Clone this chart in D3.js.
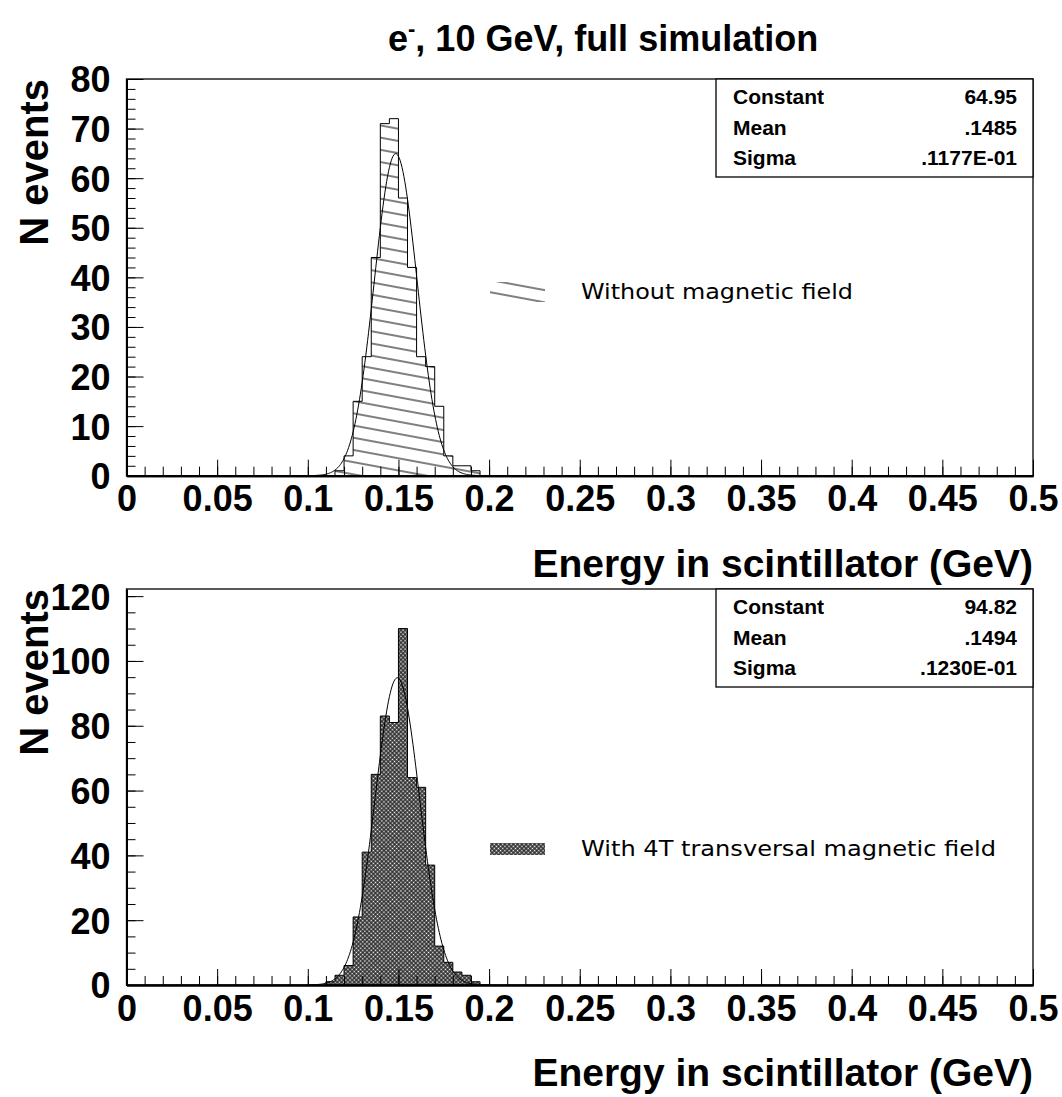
<!DOCTYPE html>
<html>
<head>
<meta charset="utf-8">
<script src="https://cdn.jsdelivr.net/npm/d3@7"></script>
<style>
    body { margin: 0; background: #fff; }
    svg { display: block; }
    text { font-family: "Liberation Sans", Arial, sans-serif; font-weight: bold; fill: #000; }
    .legend-text { font-family: "DejaVu Sans", sans-serif; font-weight: normal; }
</style>
</head>
<body>
<div id="chart"></div>
<script>

// bin lower edges (GeV), bin width 0.005
const binLow = [0.110, 0.115, 0.120, 0.125, 0.130, 0.135, 0.140, 0.145, 0.150,
                0.155, 0.160, 0.165, 0.170, 0.175, 0.180, 0.185, 0.190];
const binWidth = 0.005;

// counts
const countsNoField = [0, 1, 4, 15, 24, 44, 71, 72, 56, 42, 24, 22, 14, 4, 2, 2, 1];
const countsField   = [1, 3, 6, 21, 41, 65, 83, 81, 110, 64, 61, 37, 12, 7, 4, 3, 1];

// gaussian fit parameters shown in the stat boxes
const fitNoField = [64.95, 0.1485, 0.01177];
const fitField   = [94.82, 0.1494, 0.01230];
const statNames = ["Constant", "Mean", "Sigma"];
const statNoField = ["64.95", ".1485", ".1177E-01"];
const statField   = ["94.82", ".1494", ".1230E-01"];

const xMajorTicks = [0, 0.05, 0.1, 0.15, 0.2, 0.25, 0.3, 0.35, 0.4, 0.45, 0.5];
const yTicksTop = [0, 10, 20, 30, 40, 50, 60, 70, 80];
const yTicksBottom = [0, 20, 40, 60, 80, 100, 120];

const W = 1062, H = 1097;

const svg = d3.select("#chart").append("svg")
    .attr("width", W)
    .attr("height", H);

const defs = svg.append("defs");

// single hatching, slightly tilted lines
const hatch = defs.append("pattern")
    .attr("id", "hatch")
    .attr("patternUnits", "userSpaceOnUse")
    .attr("width", 40)
    .attr("height", 12)
    .attr("patternTransform", "rotate(10.5)");
hatch.append("line")
    .attr("x1", 0).attr("y1", 6).attr("x2", 40).attr("y2", 6)
    .attr("stroke", "#000").attr("stroke-width", 1);

// dense cross hatching
const xhatch = defs.append("pattern")
    .attr("id", "xhatch")
    .attr("patternUnits", "userSpaceOnUse")
    .attr("width", 3)
    .attr("height", 3)
    .attr("patternTransform", "rotate(45)");
xhatch.append("rect").attr("width", 3).attr("height", 3).attr("fill", "#222");
xhatch.append("rect").attr("x", 0.7).attr("y", 0.7).attr("width", 1.6).attr("height", 1.6).attr("fill", "#fff");

// title
let title = svg.append("text")
    .attr("x", 388)
    .attr("y", 51)
    .style("font-size", "36px");
title.append("tspan").text("e");
title.append("tspan").text("-").attr("dy", -15).style("font-size", "22px");
title.append("tspan").text(", 10 GeV, full simulation").attr("dy", 15);


class HistPanel {
    constructor(cfg) {
        this.cfg = cfg;
        this.initVis();
    }

    initVis() {
        let vis = this;
        let c = vis.cfg;

        vis.left = 126.5;
        vis.right = 1033;
        vis.top = c.top;
        vis.bottom = c.bottom;

        vis.g = svg.append("g");

        vis.x = d3.scaleLinear().domain([0, 0.5]).range([vis.left, vis.right]);
        vis.y = d3.scaleLinear().domain([0, c.yMax]).range([vis.bottom, vis.top]);

        // histogram step outline
        let pts = [[binLow[0], 0]];
        binLow.forEach((lo, i) => {
            pts.push([lo, c.counts[i]]);
            pts.push([lo + binWidth, c.counts[i]]);
        });
        pts.push([binLow[binLow.length - 1] + binWidth, 0]);

        let line = d3.line()
            .x(d => vis.x(d[0]))
            .y(d => vis.y(d[1]));

        vis.g.append("path")
            .datum(pts)
            .attr("d", line)
            .attr("fill", c.fill)
            .attr("stroke", "#000")
            .attr("stroke-width", 1);

        // gaussian fit curve
        let [A, mu, sig] = c.fit;
        let xs = d3.range(0.1, 0.2001, 0.0005);
        let curve = xs.map(e => [e, A * Math.exp(-0.5 * ((e - mu) / sig) ** 2)]);
        vis.g.append("path")
            .datum(curve)
            .attr("d", line)
            .attr("fill", "none")
            .attr("stroke", "#000")
            .attr("stroke-width", 1);

        // frame
        vis.g.append("rect")
            .attr("x", vis.left)
            .attr("y", vis.top)
            .attr("width", vis.right - vis.left)
            .attr("height", vis.bottom - vis.top)
            .attr("fill", "none")
            .attr("stroke", "#000")
            .attr("stroke-width", 1.3);

        // x axis: minor then major
        let xMinor = d3.axisBottom(vis.x)
            .tickValues(d3.range(0, 51).map(i => i / 100))
            .tickSizeInner(-9).tickSizeOuter(0)
            .tickFormat("");
        vis.g.append("g")
            .attr("transform", `translate(0, ${vis.bottom})`)
            .call(xMinor);

        let xMajor = d3.axisBottom(vis.x)
            .tickValues(xMajorTicks)
            .tickSizeInner(-16).tickSizeOuter(0)
            .tickPadding(10)
            .tickFormat(d => String(+d.toFixed(2)));
        vis.xAxisGroup = vis.g.append("g")
            .attr("transform", `translate(0, ${vis.bottom})`)
            .call(xMajor);

        // y axis
        let yMinor = d3.axisLeft(vis.y)
            .tickValues(d3.range(0, c.yMax + 0.001, c.yMinorStep))
            .tickSizeInner(-9).tickSizeOuter(0)
            .tickFormat("");
        vis.g.append("g")
            .attr("transform", `translate(${vis.left}, 0)`)
            .call(yMinor);

        let yMajor = d3.axisLeft(vis.y)
            .tickValues(c.yTicks)
            .tickSizeInner(-17).tickSizeOuter(0)
            .tickPadding(16)
            .tickFormat(d3.format("d"));
        vis.yAxisGroup = vis.g.append("g")
            .attr("transform", `translate(${vis.left}, 0)`)
            .call(yMajor);

        vis.g.selectAll(".domain").attr("stroke-width", 2);
        vis.g.selectAll(".tick line").attr("stroke-width", 1);
        vis.g.selectAll(".tick text")
            .attr("font-family", null)
            .style("font-size", "36px")
            .style("font-family", '"Liberation Sans", Arial, sans-serif')
            .style("font-weight", "bold");
        vis.yAxisGroup.selectAll(".tick text").attr("dy", "0.36em");

        // axis titles
        vis.g.append("text")
            .attr("x", vis.right)
            .attr("y", vis.bottom + 101)
            .attr("text-anchor", "end")
            .style("font-size", "39px")
            .text("Energy in scintillator (GeV)");

        vis.g.append("text")
            .attr("transform", `translate(48, ${vis.top}) rotate(-90)`)
            .attr("text-anchor", "end")
            .style("font-size", "40px")
            .text("N events");

        // stat box
        let bx = 716, bw = vis.right - bx, bh = 98;
        vis.g.append("rect")
            .attr("x", bx).attr("y", vis.top)
            .attr("width", bw).attr("height", bh)
            .attr("fill", "#fff")
            .attr("stroke", "#000")
            .attr("stroke-width", 1.3);

        statNames.forEach((name, i) => {
            let yy = vis.top + 25 + i * 30.5;
            vis.g.append("text")
                .attr("x", bx + 17).attr("y", yy)
                .style("font-size", "21px")
                .text(name);
            vis.g.append("text")
                .attr("x", vis.right - 16).attr("y", yy)
                .attr("text-anchor", "end")
                .style("font-size", "21px")
                .text(c.stats[i]);
        });

        // legend
        vis.g.append("rect")
            .attr("x", 490).attr("y", c.legendY - c.swatchH / 2)
            .attr("width", 55).attr("height", c.swatchH)
            .attr("fill", c.fill);

        vis.g.append("text")
            .attr("class", "legend-text")
            .attr("x", 581).attr("y", c.legendY + 7)
            .attr("textLength", c.legendLen)
            .attr("lengthAdjust", "spacingAndGlyphs")
            .style("font-size", "21px")
            .text(c.legend);
    }
}

new HistPanel({
    top: 79, bottom: 475.7, yMax: 80, yMinorStep: 2, yTicks: yTicksTop,
    counts: countsNoField, fit: fitNoField, stats: statNoField,
    fill: "url(#hatch)", legend: "Without magnetic field",
    legendY: 292, swatchH: 20, legendLen: 272
});

new HistPanel({
    top: 589, bottom: 985, yMax: 122.2, yMinorStep: 5, yTicks: yTicksBottom,
    counts: countsField, fit: fitField, stats: statField,
    fill: "url(#xhatch)", legend: "With 4T transversal magnetic field",
    legendY: 849, swatchH: 12, legendLen: 415
});

</script>
</body>
</html>
